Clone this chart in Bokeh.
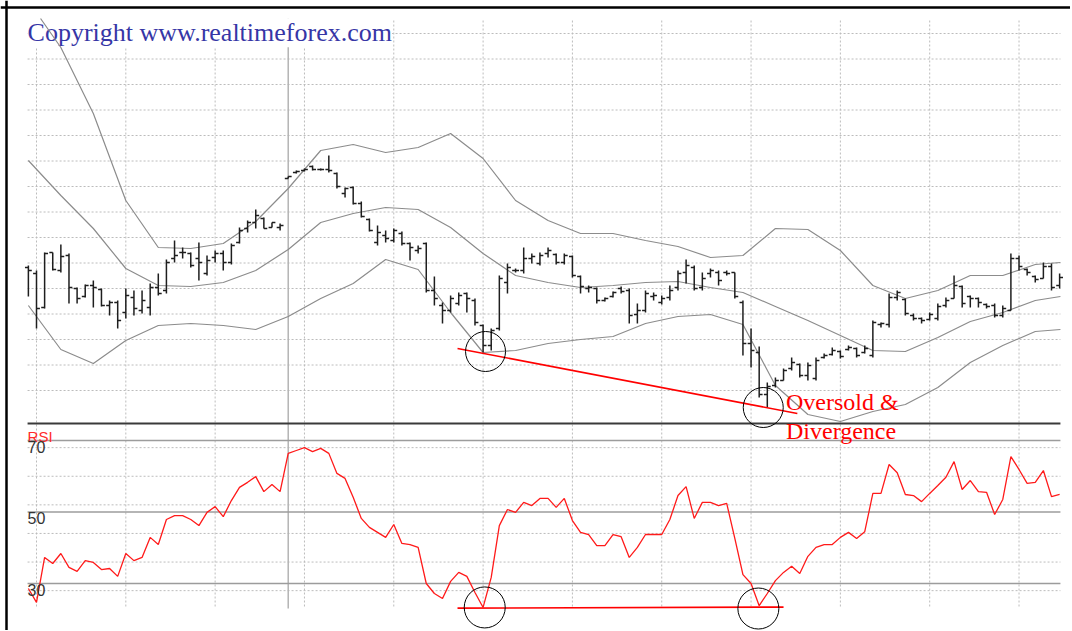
import numpy as np
from bokeh.plotting import figure
from bokeh.models import Range1d, Span
from bokeh.core.properties import value
from bokeh.embed import file_html
from bokeh.resources import INLINE

# ---------------- data (price in chart points, one entry per bar) ----------------
high = [158,153,171,171,179,170,136,139,143,135,
        123,123,135,133,133,140,150,164,183,176,
        171,181,168,173,173,180,196,203,214,206,
        201,200,247,253,255,258,255,268,251,236,
        237,222,205,198,193,195,192,181,178,181,
        147,121,128,131,131,125,99,95,148,160,
        155,176,170,171,176,170,170,168,148,138,
        136,126,132,137,135,120,133,131,128,138,
        153,164,158,151,155,153,153,151,123,95,
        77,41,46,55,66,60,61,66,70,76,
        73,78,76,78,103,101,130,133,125,110,
        106,111,120,126,148,138,128,126,120,120,
        118,170,168,155,148,161,160,150]
low = [127,95,115,153,151,120,120,126,116,117,
       108,95,105,108,110,108,128,130,161,165,
       156,143,148,161,153,159,180,191,195,195,
       196,193,245,250,252,253,253,251,235,226,
       219,206,192,178,181,181,178,163,170,131,
       118,100,111,118,111,98,71,73,93,130,
       151,150,160,158,166,159,159,146,130,131,
       120,122,126,130,100,100,111,123,119,123,
       133,140,133,133,146,138,148,125,68,56,
       26,16,36,43,53,46,43,43,65,68,
       65,73,66,70,66,96,96,123,108,103,
       100,103,103,116,125,116,116,116,115,106,
       106,113,153,148,141,145,133,135]
opens = [156,150,116,171,153,168,135,127,138,134,
         118,121,111,126,113,116,136,133,165,171,
         170,165,150,166,170,161,181,195,201,205,
         196,196,245,251,253,257,254,254,250,230,
         236,220,204,181,188,183,190,180,173,180,
         133,118,113,120,130,123,98,78,95,141,
         153,153,165,160,170,169,161,167,147,135,
         135,123,127,135,133,109,113,127,121,126,
         136,151,156,136,150,151,151,151,121,80,
         71,29,38,43,55,59,48,45,66,69,
         72,74,75,71,68,99,99,126,124,108,
         105,104,105,118,125,137,127,125,119,118,
         108,113,165,154,147,145,157,138]
closes = [153,115,170,154,167,136,125,138,136,118,
          121,103,128,115,123,136,130,161,168,171,
          158,161,163,170,161,178,193,201,208,195,
          201,198,247,252,254,254,254,253,237,235,
          220,207,193,191,185,193,180,176,175,133,
          125,113,125,128,125,101,78,93,145,156,
          153,165,167,168,173,161,168,148,137,136,
          123,125,131,132,108,113,130,128,125,133,
          150,158,135,145,153,143,150,127,80,73,
          29,37,43,53,61,48,58,63,68,73,
          67,76,68,75,101,100,126,131,110,105,
          103,109,117,123,138,120,125,121,117,108,
          115,165,157,151,144,157,136,146]

rsi = [28.6,24.7,37.3,35.6,38.4,34.5,33.4,36.4,35.9,33.9,
       34.2,32.0,38.4,36.4,37.3,42.9,40.9,47.9,49.0,49.0,
       47.9,46.2,49.9,51.5,48.7,53.2,56.9,58.3,59.9,55.7,
       57.7,55.7,66.4,67.2,68.0,66.9,67.8,66.4,60.8,59.4,
       54.1,48.2,45.7,44.3,42.9,46.5,41.2,40.9,40.1,30.0,
       27.2,25.8,30.6,33.1,32.0,27.5,23.3,31.7,46.2,50.7,
       49.9,52.7,51.8,53.8,53.8,51.3,53.8,47.6,44.3,43.7,
       40.6,40.6,43.7,43.1,37.3,40.1,43.7,43.7,43.7,47.9,
       54.6,57.1,48.2,52.7,52.7,51.8,52.4,42.6,32.5,30.0,
       23.8,27.2,30.8,33.1,34.8,32.8,37.6,40.1,40.9,40.9,
       42.9,44.3,42.6,44.5,55.2,55.2,63.3,61.0,54.9,54.6,
       52.9,55.2,57.4,59.7,64.1,56.3,58.8,55.7,55.5,49.3,
       53.5,65.5,61.9,58.0,58.3,61.6,54.3,54.9]

# Bollinger bands, read at every 4th bar
upper_x = [1.5,4,8,12,16,20,24,28,32,36,40,44,48,52,56,60,64,68,72,76,80,84,88,92,96,100,104,108,112,116,120,124,127.1]
upper = [405,376,310,223,176,175,180,202,235,273,279,271,276,290,265,223,203,190,190,183,177,166,168,195,194,173,138,125,133,148,148,159,161]
band_x = [0,4,8,12,16,20,24,28,32,36,40,44,48,52,56,60,64,68,72,76,80,84,88,92,96,100,104,108,112,116,120,124,127.1]
middle = [263,228,195,155,138,137,141,153,174,201,210,216,214,196,170,148,141,136,138,141,142,136,131,117,103,88,73,72,86,102,111,123,127]
lower = [118,74,60,83,98,100,98,94,107,125,140,164,154,111,71,73,80,84,87,100,107,109,99,38,9,2,12,19,36,61,78,92,94]

# grid / reference levels
price_grid = [33,58.5,84,109.5,135,160.5,186,211.5,237,262.5,288,313.5,339,364.5,390]
rsi_grid = [28,36,44,52,60,68]
rsi_levels = [70,50,30]
rsi_labels = ["70","50","30"]
vgrid_bars = list(range(1, 128, 11))
session_bar = 32

# annotations
price_trend_x = [52.85, 94.7]
price_trend_y = [75, 10]
rsi_trend_x = [52.85, 93.0]
rsi_trend_y = [23.1, 23.4]
price_circle_x = [56.3, 90.5]
price_circle_y = [72, 16]
rsi_circle_x = [56.2, 89.9]
rsi_circle_y = [23.3, 23.0]

# ---------------- layout ----------------
W, H = 1070, 630
PX_BAR = 8.12
x0 = -27.88 / PX_BAR
x_range = Range1d(x0, x0 + W / PX_BAR)
y_range = Range1d(423 - H, 423)
RSI_PX = 3.575
rsi_range = Range1d(70 - (H - 440) / RSI_PX, 70 + 440 / RSI_PX)
TXT_DY = -7  # screen correction for text baselines

p = figure(width=W, height=H, x_range=x_range, y_range=y_range,
           output_backend="svg", toolbar_location=None, min_border=0,
           x_axis_location=None, y_axis_location=None,
           outline_line_color=None, background_fill_color="white",
           border_fill_color="white")
p.grid.visible = False
p.extra_y_ranges = {"rsi": rsi_range}

XL, XR = -0.1, 127.1
TOP, BOT = 403, -185

grid_col = "#bcbcbc"
# vertical dotted grid
p.segment(x0=vgrid_bars, y0=[TOP]*len(vgrid_bars), x1=vgrid_bars, y1=[BOT]*len(vgrid_bars),
          line_color=grid_col, line_width=1, line_dash="2 2")
# horizontal dotted grid (price)
p.segment(x0=[XL]*len(price_grid), y0=price_grid, x1=[XR]*len(price_grid), y1=price_grid,
          line_color=grid_col, line_width=1, line_dash="2 2")
# horizontal dotted grid (rsi)
p.segment(x0=[XL]*len(rsi_grid), y0=rsi_grid, x1=[XR]*len(rsi_grid), y1=rsi_grid,
          line_color=grid_col, line_width=1, line_dash="2 2", y_range_name="rsi")
# session line
p.segment(x0=[session_bar], y0=[TOP + 2], x1=[session_bar], y1=[BOT],
          line_color="#b4b4b4", line_width=1.5)
# rsi reference lines
p.segment(x0=[XL]*3, y0=rsi_levels, x1=[XR]*3, y1=rsi_levels,
          line_color="#9c9c9c", line_width=1.6, y_range_name="rsi")
# panel divider
p.segment(x0=[XL], y0=[0], x1=[XR], y1=[0], line_color="#3a3a3a", line_width=2)

# copyright
p.text(x=[XL], y=[383.7], text=["Copyright www.realtimeforex.com"],
       text_font=value("Liberation Serif"), text_font_size="26px",
       text_color="#3636a6", text_baseline="alphabetic", text_align="left",
       y_offset=TXT_DY, background_fill_color="white")

# bands
p.line(upper_x, upper, line_color="#8c8c8c", line_width=1.2)
p.line(band_x, middle, line_color="#8c8c8c", line_width=1.2)
p.line(band_x, lower, line_color="#8c8c8c", line_width=1.2)

# OHLC bars
idx = np.arange(len(high))
bar_col = "#1e1e1e"
p.segment(x0=idx, y0=low, x1=idx, y1=high, line_color=bar_col, line_width=1.5)
p.segment(x0=idx - 0.42, y0=opens, x1=idx, y1=opens, line_color=bar_col, line_width=1.5)
p.segment(x0=idx, y0=closes, x1=idx + 0.42, y1=closes, line_color=bar_col, line_width=1.5)

# RSI
p.line(idx, rsi, line_color="#ff1a1a", line_width=1.3, y_range_name="rsi")

# labels
p.text(x=[XL], y=[70], text=["RSI"], text_font=value("Liberation Sans"),
       text_font_size="15px", text_color="#ff2a2a", text_baseline="alphabetic",
       y_offset=3 + TXT_DY, y_range_name="rsi")
p.text(x=[XL]*3, y=rsi_levels, text=rsi_labels, text_font=value("Liberation Sans"),
       text_font_size="16px", text_color="#333333", text_baseline="alphabetic",
       y_offset=13 + TXT_DY, y_range_name="rsi")

# annotations
p.line(price_trend_x, price_trend_y, line_color="#ff0000", line_width=1.6)
p.line(rsi_trend_x, rsi_trend_y, line_color="#ff0000", line_width=1.6, y_range_name="rsi")
p.scatter(price_circle_x, price_circle_y, marker="circle", size=40,
          fill_color=None, line_color="black", line_width=1)
p.scatter(rsi_circle_x, rsi_circle_y, marker="circle", size=41,
          fill_color=None, line_color="black", line_width=1, y_range_name="rsi")
p.text(x=[93.3, 93.3], y=[15, -14], text=["Oversold &", "Divergence"],
       text_font=value("Liberation Serif"), text_font_size="24px",
       text_color="#ff0000", text_baseline="alphabetic", y_offset=TXT_DY)

# outer frame (left and top)
p.add_layout(Span(location=(6 - 27.88) / PX_BAR, dimension="height", line_color="black", line_width=2.5))
p.add_layout(Span(location=423 - 7, dimension="width", line_color="black", line_width=2.5))

open("out.html", "w").write(file_html(p, INLINE))
